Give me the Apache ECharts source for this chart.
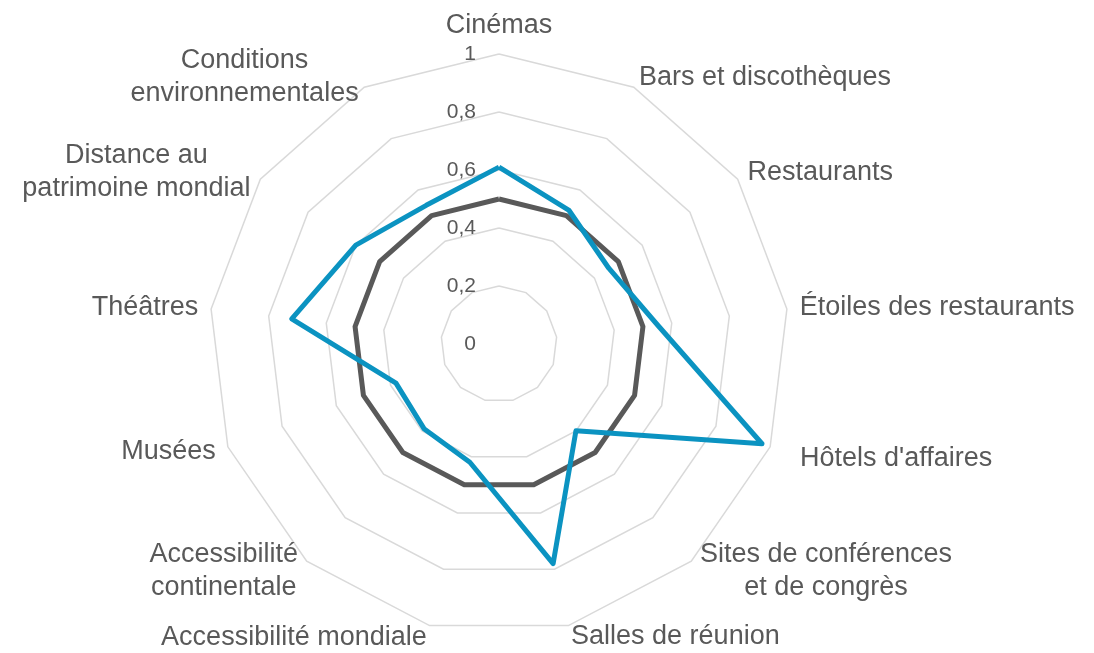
<!DOCTYPE html>
<html>
<head>
<meta charset="utf-8">
<script src="https://cdn.jsdelivr.net/npm/echarts@6/dist/echarts.min.js"></script>
<style>
  html, body { margin: 0; padding: 0; background: #fff; }
  #chart { width: 1094px; height: 653px; }
</style>
</head>
<body>
<div id="chart"></div>
<script>
// axes, clockwise from the top
var categories = [
  'Cinémas',
  'Bars et discothèques',
  'Restaurants',
  'Étoiles des restaurants',
  "Hôtels d'affaires",
  'Sites de conférences\net de congrès',
  'Salles de réunion',
  'Accessibilité mondiale',
  'Accessibilité\ncontinentale',
  'Musées',
  'Théâtres',
  'Distance au\npatrimoine mondial',
  'Conditions\nenvironnementales'
];
var referenceValues = [0.5, 0.5, 0.5, 0.5, 0.5, 0.5, 0.5, 0.5, 0.5, 0.5, 0.5, 0.5, 0.5];
var cityValues = [0.61, 0.52, 0.46, 0.55, 0.97, 0.40, 0.78, 0.42, 0.39, 0.38, 0.72, 0.60, 0.54];
var tickValues = [0, 0.2, 0.4, 0.6, 0.8, 1];

var textColor = '#595959';
var nameGaps = [12, 11, 12, 13, 32, 13, 11, 12, 13, 13, 13, 12, 12];

// echarts draws the radar counter-clockwise: keep the first axis, reverse the rest
var order = [0];
for (var i = categories.length - 1; i > 0; i--) order.push(i);
function reorder(arr) {
  return order.map(function (k) { return arr[k]; });
}

var indicators = order.map(function (k, idx) {
  var ind = { name: categories[k], min: 0, max: 1, nameGap: nameGaps[k] };
  if (idx === 0) {
    ind.axisLabel = {
      show: true,
      showMinLabel: true,
      showMaxLabel: true,
      color: textColor,
      fontSize: 21,
      fontFamily: 'Liberation Sans',
      margin: 23,
      formatter: function (v) { return String(v).replace('.', ','); }
    };
  }
  return ind;
});

var myChart = echarts.init(document.getElementById('chart'));
var option = {
  animation: false,
  backgroundColor: '#ffffff',
  radar: {
    center: [499, 344],
    radius: 290,
    startAngle: 90,
    shape: 'polygon',
    splitNumber: tickValues.length - 1,
    indicator: indicators,
    axisName: {
      color: textColor,
      fontSize: 27,
      fontFamily: 'Liberation Sans',
      lineHeight: 33,
      formatter: function (value) {
        return value.split('\n').map(function (s) { return '{c|' + s + '}'; }).join('\n');
      },
      rich: {
        c: { align: 'center', color: textColor, fontSize: 27, fontFamily: 'Liberation Sans', lineHeight: 33 }
      }
    },
    axisLine: { show: false },
    axisTick: { show: false },
    axisLabel: { show: false },
    splitArea: { show: false },
    splitLine: { lineStyle: { color: '#d9d9d9', width: 1.5 } }
  },
  series: [{
    type: 'radar',
    symbol: 'none',
    data: [
      {
        value: reorder(referenceValues),
        lineStyle: { color: '#595959', width: 5 },
        itemStyle: { color: '#595959' }
      },
      {
        value: reorder(cityValues),
        lineStyle: { color: '#0b93c1', width: 5 },
        itemStyle: { color: '#0b93c1' }
      }
    ]
  }]
};
myChart.setOption(option);
</script>
</body>
</html>
